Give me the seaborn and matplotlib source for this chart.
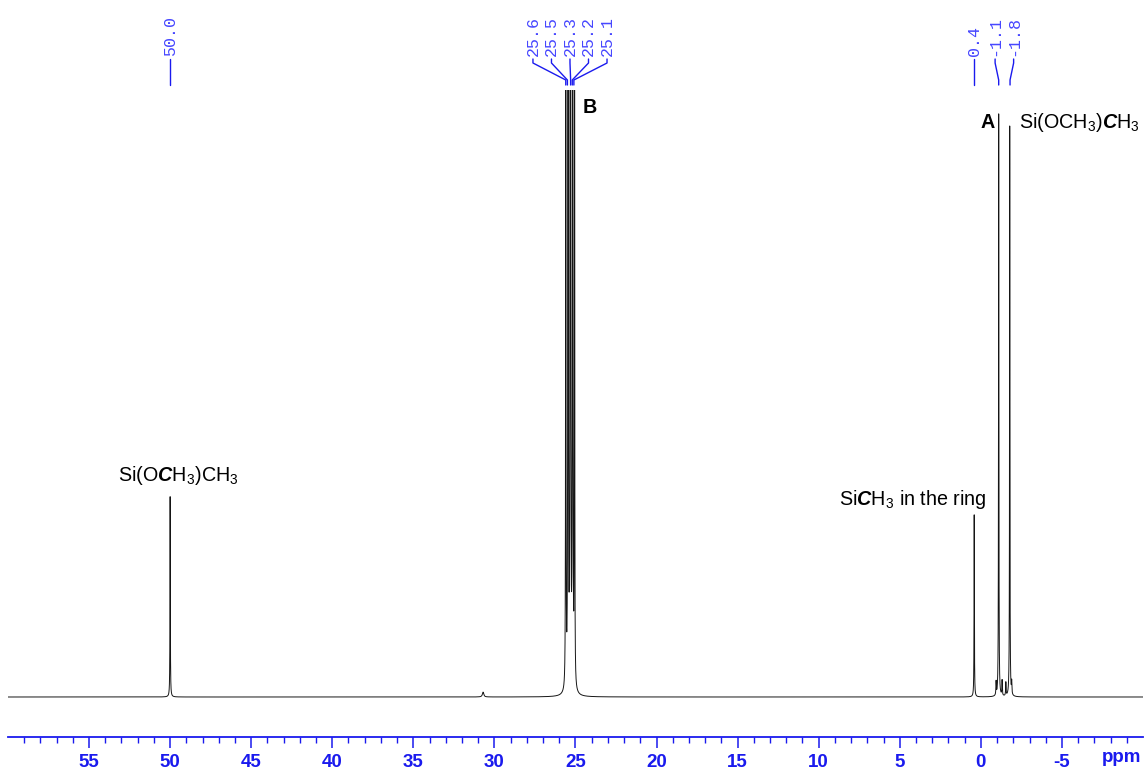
import numpy as np
import pandas as pd
import matplotlib
matplotlib.use("Agg")
import matplotlib.pyplot as plt
import seaborn as sns

# ---- data ----
peak_ppm    = [50.0, 30.7, 25.60, 25.46, 25.32, 25.18, 25.06, 0.41, -0.94, -1.10, -1.31, -1.54, -1.78, -1.90]
peak_height = [0.33, 0.008, 2.0, 4.0, 6.0, 4.0, 2.0, 0.30, 0.022, 0.96, 0.025, 0.022, 0.94, 0.02]
peak_hwhm   = [0.012, 0.05, 0.009, 0.009, 0.009, 0.009, 0.009, 0.012, 0.015, 0.012, 0.015, 0.015, 0.012, 0.015]

label_groups = [["50.0"], ["25.6", "25.5", "25.3", "25.2", "25.1"], ["0.4"], ["-1.1", "-1.8"]]
tick_values = [55, 50, 45, 40, 35, 30, 25, 20, 15, 10, 5, 0, -5]
tick_labels = ["55", "50", "45", "40", "35", "30", "25", "20", "15", "10", "5", "0", "-5"]

BLUE = "#1a1aee"
LBLUE = "#4646ff"

sns.set_theme(style="white")
plt.rcParams["font.family"] = ["Liberation Sans", "DejaVu Sans"]
plt.rcParams["mathtext.fontset"] = "custom"
plt.rcParams["mathtext.rm"] = "Liberation Sans"
plt.rcParams["mathtext.it"] = "Liberation Sans:italic"
plt.rcParams["mathtext.bf"] = "Liberation Sans:bold"
try:
    plt.rcParams["mathtext.bfit"] = "Liberation Sans:bold:italic"
except KeyError:
    pass

# spectrum built from the peak list (Lorentzian line shapes)
ppm = np.linspace(60, -10, 70001)
inten = np.zeros_like(ppm)
for p, h, w in zip(peak_ppm, peak_height, peak_hwhm):
    inten += h * w**2 / ((ppm - p) ** 2 + w**2)
df = pd.DataFrame({"ppm": ppm, "intensity": inten})

W, H = 1145, 769
fig = plt.figure(figsize=(W / 100, H / 100), dpi=100)
AX_L, AX_R, AX_T, AX_B = 8, 1143, 90, 737
ax = fig.add_axes([AX_L / W, 1 - AX_B / H, (AX_R - AX_L) / W, (AX_B - AX_T) / H])

sns.lineplot(data=df, x="ppm", y="intensity", ax=ax, color="#151515",
             lw=0.7, estimator=None, sort=False)
ax.set_xlim(60, -10)
ax.set_ylim(-0.0659, 1.0)

# pixel helpers for layout
PX0, PXS = 980.7, 16.2
def yf(py):
    return (AX_B - py) / (AX_B - AX_T)
def ppm_of(px):
    return (PX0 - px) / PXS

trans = ax.get_xaxis_transform()

# peak labels + leaders above the plot
spacing = 18.5 / PXS
for grp in label_groups:
    vals = [float(s) for s in grp]
    n = len(vals)
    center = float(np.mean(vals))
    for i, (s, v) in enumerate(zip(grp, vals)):
        if n == 1:
            lx = v
            ax.plot([v, v], [yf(59), yf(85)], transform=trans, color=BLUE,
                    lw=1.0, clip_on=False)
        else:
            lx = center + ((n - 1) / 2 - i) * spacing
            ax.plot([lx, lx, v, v], [yf(59), yf(63), yf(80), yf(85)],
                    transform=trans, color=BLUE, lw=1.0, clip_on=False)
        ax.text(lx, yf(56), s, rotation=90, ha="center", va="bottom",
                transform=trans, color=LBLUE, fontsize=12,
                family=["Liberation Mono", "DejaVu Sans Mono"], clip_on=False)

# axis styling
for sp in ["top", "left", "right"]:
    ax.spines[sp].set_visible(False)
ax.spines["bottom"].set_color(BLUE)
ax.spines["bottom"].set_linewidth(1.3)
ax.set_yticks([])
ax.set_xticks(tick_values)
ax.set_xticklabels(tick_labels, fontweight="bold")
minor = [v for v in range(59, -10, -1) if v % 5 != 0]
ax.set_xticks(minor, minor=True)
ax.tick_params(axis="x", which="major", length=8, width=1.1, color=BLUE,
               direction="out", labelcolor=BLUE, labelsize=13.5, pad=4, bottom=True)
ax.tick_params(axis="x", which="minor", length=4.5, width=1.0, color=BLUE,
               direction="out", bottom=True)
ax.set_xlabel("")
ax.set_ylabel("")
ax.text(ppm_of(1121), yf(757), "ppm", transform=trans, ha="center", va="center",
        color=BLUE, fontsize=13.5, fontweight="bold", clip_on=False)

# annotations
FS = 14.2
ax.text(ppm_of(179), yf(481), r"Si(O$\mathbfit{C}$H$_3$)CH$_3$", transform=trans,
        ha="center", va="baseline", fontsize=FS, color="black")
ax.text(ppm_of(913), yf(505), r"Si$\mathbfit{C}$H$_3$ in the ring", transform=trans,
        ha="center", va="baseline", fontsize=FS, color="black")
ax.text(ppm_of(1019), yf(128), r"Si(OCH$_3$)$\mathbfit{C}$H$_3$", transform=trans,
        ha="left", va="baseline", fontsize=FS, color="black", clip_on=False)
ax.text(ppm_of(995), yf(128), "A", transform=trans, ha="right", va="baseline",
        fontsize=FS, fontweight="bold", color="black")
ax.text(ppm_of(583), yf(113), "B", transform=trans, ha="left", va="baseline",
        fontsize=FS, fontweight="bold", color="black")

fig.savefig("out.png", dpi=100, facecolor="white")
